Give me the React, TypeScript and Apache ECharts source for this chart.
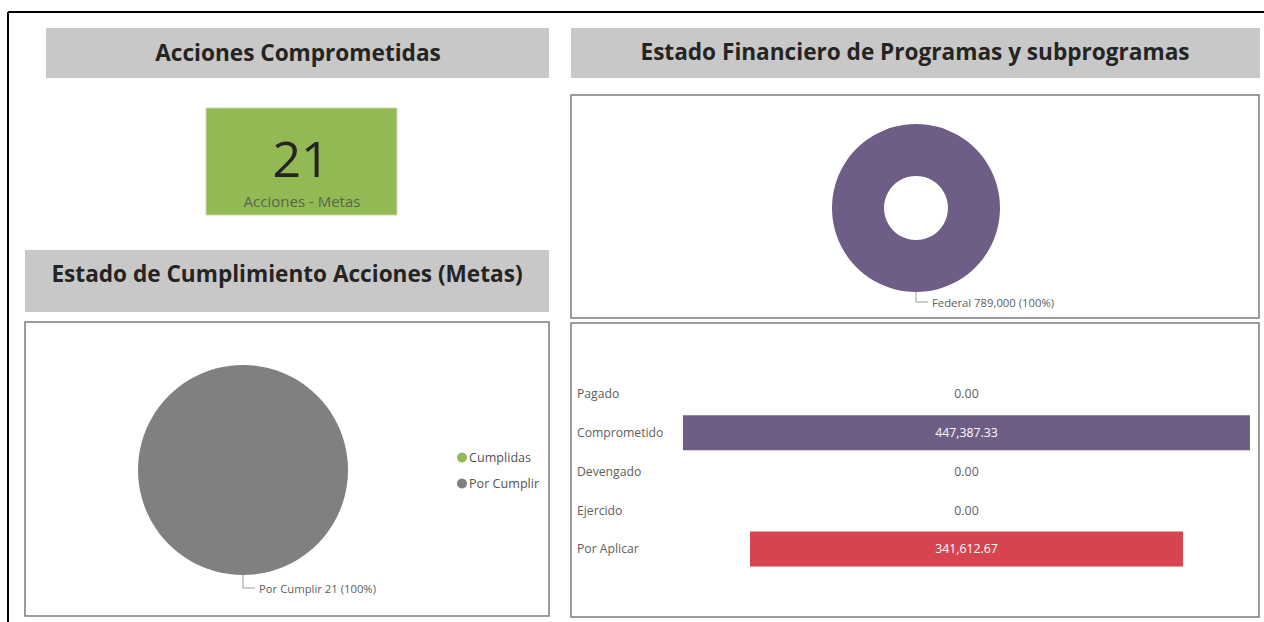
import React, { useEffect, useRef } from 'react';
import * as echarts from 'echarts';

const FONT = '"Open Sans", "Noto Sans", sans-serif';

const titleTexts = [
  'Acciones Comprometidas',
  'Estado de Cumplimiento Acciones (Metas)',
  'Estado Financiero de Programas y subprogramas',
];

const kpiValue = 21;
const kpiLabel = 'Acciones - Metas';

const cumplimientoCategories = ['Cumplidas', 'Por Cumplir'];
const cumplimientoValues = [0, 21];
const cumplimientoColors = ['#93BA55', '#808080'];

const fuenteCategories = ['Federal'];
const fuenteValues = [789000];
const fuenteColors = ['#6E5E87'];

const estadoCategories = ['Pagado', 'Comprometido', 'Devengado', 'Ejercido', 'Por Aplicar'];
const estadoValues = [0, 447387.33, 0, 0, 341612.67];
const estadoColors = ['#6E5E87', '#6E5E87', '#6E5E87', '#6E5E87', '#D6454F'];

const fmtInt = (v: number) => v.toLocaleString('en-US');
const fmt2 = (v: number) =>
  v.toLocaleString('en-US', { minimumFractionDigits: 2, maximumFractionDigits: 2 });

function band(x: number, y: number, w: number, h: number) {
  return { type: 'rect', shape: { x, y, width: w, height: h }, style: { fill: '#C8C8C8' }, silent: true };
}
function panel(x: number, y: number, w: number, h: number) {
  return {
    type: 'rect',
    shape: { x, y, width: w, height: h },
    style: { fill: 'none', stroke: '#7c7c7c', lineWidth: 1.5 },
    silent: true,
  };
}
function title(text: string, x: number, y: number) {
  return {
    type: 'text',
    x,
    y,
    silent: true,
    z: 10,
    style: {
      text,
      fill: '#252423',
      font: `bold 22.6px ${FONT}`,
      textAlign: 'center',
      textVerticalAlign: 'middle',
      align: 'center',
      verticalAlign: 'middle',
    },
  };
}

export default function App() {
  const ref = useRef<HTMLDivElement>(null);

  useEffect(() => {
    if (!ref.current) return;
    const chart = echarts.init(ref.current, null, { renderer: 'svg' });
    const maxEstado = Math.max(...estadoValues);

    const pieLabel = (p: any) => `${p.name} ${fmtInt(p.value)} (${Math.round(p.percent)}%)`;

    chart.setOption({
      animation: false,
      textStyle: { fontFamily: FONT },
      graphic: [
        // outer black frame
        { type: 'line', shape: { x1: 8, y1: 12, x2: 1264, y2: 12 }, style: { stroke: '#000', lineWidth: 2 }, silent: true },
        { type: 'line', shape: { x1: 8, y1: 12, x2: 8, y2: 622 }, style: { stroke: '#000', lineWidth: 2 }, silent: true },
        band(46, 28, 503, 50),
        band(25, 250, 524, 62),
        band(571, 28, 689, 50),
        title(titleTexts[0], 298, 52),
        title(titleTexts[1], 287, 273),
        title(titleTexts[2], 915, 51),
        panel(25, 322, 524, 294),
        panel(571, 95, 688, 223),
        panel(571, 323, 688, 294),
        // KPI card
        {
          type: 'rect',
          shape: { x: 206, y: 108, width: 191, height: 107 },
          style: { fill: '#93B955', stroke: '#c9dcb0', lineWidth: 1 },
          silent: true,
        },
        {
          type: 'text',
          x: 301,
          y: 158,
          silent: true,
          z: 10,
          style: {
            text: String(kpiValue),
            fill: '#252423',
            font: `400 50px ${FONT}`,
            textAlign: 'center',
            textVerticalAlign: 'middle',
            align: 'center',
            verticalAlign: 'middle',
          },
        },
        {
          type: 'text',
          x: 302,
          y: 201,
          silent: true,
          z: 10,
          style: {
            text: kpiLabel,
            fill: '#5b644f',
            font: `400 15px ${FONT}`,
            textAlign: 'center',
            textVerticalAlign: 'middle',
            align: 'center',
            verticalAlign: 'middle',
          },
        },
      ],
      legend: {
        data: cumplimientoCategories,
        orient: 'vertical',
        left: 452,
        top: 446,
        icon: 'circle',
        itemWidth: 10,
        itemHeight: 10,
        itemGap: 13,
        selectedMode: false,
        textStyle: { fontSize: 12.6, color: '#555350', fontFamily: FONT, padding: [0, 0, 0, -3] },
      },
      grid: { left: 683, width: 567, top: 374.6, height: 193.75, containLabel: false },
      xAxis: { type: 'value', min: 0, max: maxEstado, show: false, splitLine: { show: false } },
      yAxis: {
        type: 'category',
        data: estadoCategories,
        inverse: true,
        axisLine: { show: false },
        axisTick: { show: false },
        splitLine: { show: false },
        axisLabel: { align: 'left', margin: 106, fontSize: 12.2, color: '#605E5C', fontFamily: FONT },
      },
      series: [
        {
          type: 'pie',
          name: 'Cumplimiento',
          center: [243, 470],
          radius: 105,
          startAngle: 90,
          avoidLabelOverlap: false,
          emphasis: { disabled: true },
          itemStyle: { borderWidth: 0 },
          label: { show: true, position: 'outside', formatter: pieLabel, fontSize: 11.3, color: '#605E5C', fontFamily: FONT, distanceToLabelLine: 4 },
          labelLine: { show: true, length: 13, length2: 12, lineStyle: { color: '#9a9a9a', width: 1 } },
          data: cumplimientoCategories.map((n, i) => ({
            name: n,
            value: cumplimientoValues[i],
            itemStyle: { color: cumplimientoColors[i] },
            label: { show: cumplimientoValues[i] > 0 },
            labelLine: { show: cumplimientoValues[i] > 0 },
          })),
        },
        {
          type: 'pie',
          name: 'Fuente',
          center: [916, 208],
          radius: [32, 84],
          startAngle: 90,
          avoidLabelOverlap: false,
          emphasis: { disabled: true },
          itemStyle: { borderWidth: 0 },
          label: { show: true, position: 'outside', formatter: pieLabel, fontSize: 11.3, color: '#605E5C', fontFamily: FONT, distanceToLabelLine: 4 },
          labelLine: { show: true, length: 10, length2: 12, lineStyle: { color: '#9a9a9a', width: 1 } },
          data: fuenteCategories.map((n, i) => ({
            name: n,
            value: fuenteValues[i],
            itemStyle: { color: fuenteColors[i] },
          })),
        },
        {
          type: 'bar',
          name: 'offset',
          stack: 'estado',
          barWidth: 35,
          silent: true,
          itemStyle: { color: 'rgba(0,0,0,0)' },
          data: estadoValues.map((v) => (maxEstado - v) / 2),
        },
        {
          type: 'bar',
          name: 'Estado',
          stack: 'estado',
          barWidth: 35,
          emphasis: { disabled: true },
          label: {
            show: true,
            position: 'inside',
            fontSize: 12.3,
            fontFamily: FONT,
            formatter: (p: any) => fmt2(p.value),
          },
          data: estadoValues.map((v, i) => ({
            value: v,
            itemStyle: { color: estadoColors[i] },
            label: { color: v > 0 ? '#ffffff' : '#605E5C' },
          })),
        },
      ],
    });

    return () => chart.dispose();
  }, []);

  return (
    <div
      ref={ref}
      style={{ position: 'fixed', left: 0, top: 0, width: 1264, height: 622, background: '#fff' }}
    />
  );
}
